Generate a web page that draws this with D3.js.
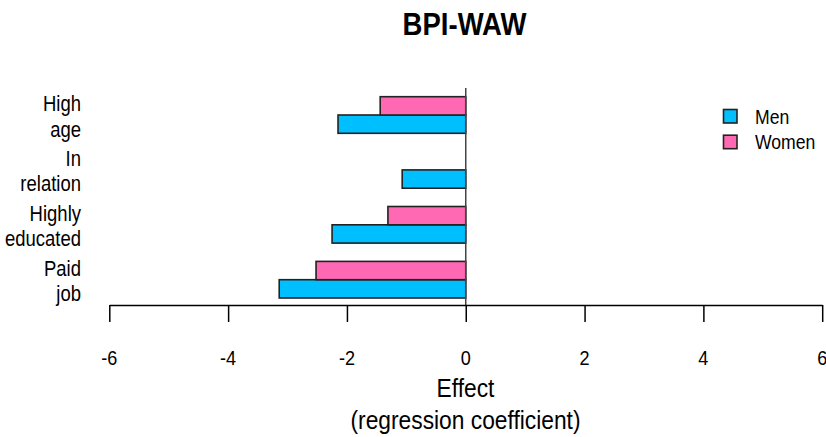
<!DOCTYPE html>
<html>
<head>
<meta charset="utf-8">
<script src="https://cdn.jsdelivr.net/npm/d3@7"></script>
<style>
  html, body { margin: 0; padding: 0; background: #fff; }
  svg { display: block; }
  text { font-family: "Liberation Sans", Arial, sans-serif; fill: #000; }
</style>
</head>
<body>
<svg id="chart" width="826" height="437"></svg>
<script>
// Regression coefficients for the BPI-WAW outcome, by predictor and sex
const categories = ["Paid job", "Highly educated", "In relation", "High age"];
const categoryLines = [["Paid", "job"], ["Highly", "educated"], ["In", "relation"], ["High", "age"]];
const series = ["Men", "Women"];
const menValues = [-3.14, -2.25, -1.07, -2.15];
const womenValues = [-2.52, -1.31, 0, -1.44];
const xTicks = [-6, -4, -2, 0, 2, 4, 6];
const colors = { Men: "#00BFFF", Women: "#FF69B4" };

const svg = d3.select("#chart");
const squeeze = 0.86; // narrow glyph rendering used for all labels

function label(sel, x, y, txt, size, anchor, weight) {
  return sel.append("text")
    .attr("transform", `translate(${x},${y}) scale(${squeeze},1)`)
    .attr("text-anchor", anchor)
    .style("font-size", size + "px")
    .style("font-weight", weight || "normal")
    .text(txt);
}

const x = d3.scaleLinear().domain([-6, 6]).range([109.3, 822.2]);

// groups from top (High age) to bottom (Paid job)
const y = d3.scaleBand()
  .domain(categories.slice().reverse())
  .range([87.55, 307.15])
  .paddingInner(1 / 3)
  .paddingOuter(1 / 6);

const yInner = d3.scaleBand()
  .domain(["Women", "Men"])
  .range([0, y.bandwidth()]);

const rows = categories.map((c, i) => ({
  category: c,
  values: [
    { key: "Men", value: menValues[i] },
    { key: "Women", value: womenValues[i] }
  ]
}));

const g = svg.append("g");
const groups = g.selectAll("g.group").data(rows).join("g")
  .attr("class", "group")
  .attr("transform", d => `translate(0,${y(d.category)})`);

groups.selectAll("rect")
  .data(d => d.values.filter(v => v.value !== 0))
  .join("rect")
  .attr("x", d => x(Math.min(0, d.value)))
  .attr("y", d => yInner(d.key))
  .attr("width", d => Math.abs(x(d.value) - x(0)))
  .attr("height", yInner.bandwidth())
  .attr("fill", d => colors[d.key])
  .attr("stroke", "#222")
  .attr("stroke-width", 1.6);

// zero reference line
g.append("line")
  .attr("x1", x(0)).attr("x2", x(0))
  .attr("y1", 88).attr("y2", 305)
  .attr("stroke", "#444").attr("stroke-width", 1.5);

// x axis
const axisY = 305;
const axis = svg.append("g")
  .attr("transform", `translate(0,${axisY})`)
  .call(d3.axisBottom(x).tickValues(xTicks).tickSize(17).tickSizeOuter(0).tickFormat(() => ""));
axis.select(".domain").attr("stroke", "#000").attr("stroke-width", 1.5);
axis.selectAll(".tick line").attr("stroke", "#000").attr("stroke-width", 1.5);

xTicks.forEach(t => label(svg, x(t), 365, d3.format("d")(t).replace("−", "-"), 21, "middle"));

// category labels on two lines
categories.forEach((c, i) => {
  const cy = y(c) + y.bandwidth() / 2;
  label(svg, 81, cy - 4, categoryLines[i][0], 21.5, "end");
  label(svg, 81, cy + 21.5, categoryLines[i][1], 21.5, "end");
});

// title and axis title
label(svg, 464.5, 35, "BPI-WAW", 32, "middle", "bold");
label(svg, 465.5, 397, "Effect", 26.5, "middle");
label(svg, 465.5, 429, "(regression coefficient)", 26.5, "middle");

// legend
const legend = svg.append("g");
series.forEach((s, i) => {
  const ly = 109.5 + i * 25.7;
  legend.append("rect")
    .attr("x", 723.5).attr("y", ly)
    .attr("width", 13.5).attr("height", 13.5)
    .attr("fill", colors[s])
    .attr("stroke", "#222").attr("stroke-width", 1.6);
  label(legend, 755, ly + 14, s, 20.5, "start");
});
</script>
</body>
</html>
